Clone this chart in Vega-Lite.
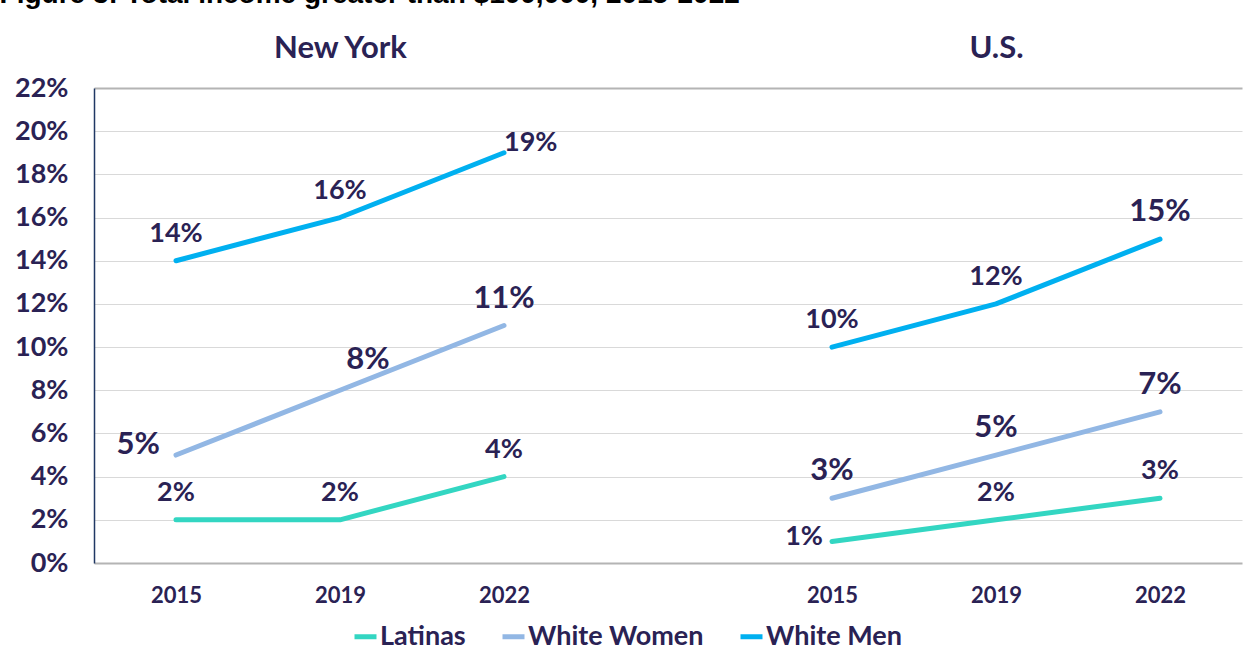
{
  "$schema": "https://vega.github.io/schema/vega-lite/v6.json",
  "width": 1148,
  "height": 475,
  "autosize": {"type": "none"},
  "padding": {"left": 94, "top": 88, "right": 1, "bottom": 101},
  "background": "white",
  "title": {
    "text": "Figure 3: Total income greater than $100,000, 2015-2022",
    "anchor": "start",
    "frame": "bounds",
    "font": "Liberation Sans",
    "fontWeight": "bold",
    "fontSize": 28,
    "color": "#000000",
    "baseline": "alphabetic",
    "offset": 20,
    "dy": 19,
    "dx": -15
  },
  "data": {
    "values": [
      {"region": "New York", "slot": "NY-2015", "series": "White Men", "value": 0.14},
      {"region": "New York", "slot": "NY-2019", "series": "White Men", "value": 0.16},
      {"region": "New York", "slot": "NY-2022", "series": "White Men", "value": 0.19},
      {"region": "New York", "slot": "NY-2015", "series": "White Women", "value": 0.05},
      {"region": "New York", "slot": "NY-2019", "series": "White Women", "value": 0.08},
      {"region": "New York", "slot": "NY-2022", "series": "White Women", "value": 0.11},
      {"region": "New York", "slot": "NY-2015", "series": "Latinas", "value": 0.02},
      {"region": "New York", "slot": "NY-2019", "series": "Latinas", "value": 0.02},
      {"region": "New York", "slot": "NY-2022", "series": "Latinas", "value": 0.04},
      {"region": "U.S.", "slot": "US-2015", "series": "White Men", "value": 0.10},
      {"region": "U.S.", "slot": "US-2019", "series": "White Men", "value": 0.12},
      {"region": "U.S.", "slot": "US-2022", "series": "White Men", "value": 0.15},
      {"region": "U.S.", "slot": "US-2015", "series": "White Women", "value": 0.03},
      {"region": "U.S.", "slot": "US-2019", "series": "White Women", "value": 0.05},
      {"region": "U.S.", "slot": "US-2022", "series": "White Women", "value": 0.07},
      {"region": "U.S.", "slot": "US-2015", "series": "Latinas", "value": 0.01},
      {"region": "U.S.", "slot": "US-2019", "series": "Latinas", "value": 0.02},
      {"region": "U.S.", "slot": "US-2022", "series": "Latinas", "value": 0.03}
    ]
  },
  "config": {
    "view": {"stroke": null},
    "font": "Lato",
    "axisY": {
      "ticks": false,
      "domainColor": "#203864",
      "domainWidth": 1.5,
      "gridColor": {"condition": {"test": "datum.value === 0 || datum.value >= 0.219", "value": "#b4b4b4"}, "value": "#d9d9d9"},
      "gridWidth": {"condition": {"test": "datum.value === 0 || datum.value >= 0.219", "value": 2}, "value": 1.2},
      "labelFont": "Lato",
      "labelFontWeight": "bold",
      "labelFontSize": 27,
      "labelColor": "#2a2254",
      "labelPadding": 26,
      "title": null
    }
  },
  "resolve": {"axis": {"x": "independent"}},
  "layer": [
    {
      "mark": {"type": "line", "strokeWidth": 5, "strokeCap": "round", "strokeJoin": "round"},
      "encoding": {
        "x": {
          "field": "slot",
          "type": "ordinal",
          "scale": {"type": "point", "padding": 0.5, "domain": ["NY-2015", "NY-2019", "NY-2022", "gap", "US-2015", "US-2019", "US-2022"]},
          "axis": {
            "orient": "bottom",
            "title": null,
            "domain": false,
            "ticks": false,
            "labelAngle": 0,
            "labelExpr": "datum.value === 'gap' ? '' : slice(datum.value, 3)",
            "labelFont": "Lato",
            "labelFontWeight": "bold",
            "labelFontSize": 22,
            "labelColor": "#2a2254",
            "labelPadding": 22
          }
        },
        "y": {
          "field": "value",
          "type": "quantitative",
          "scale": {"domain": [0, 0.22], "nice": false},
          "axis": {"values": [0, 0.02, 0.04, 0.06, 0.08, 0.1, 0.12, 0.14, 0.16, 0.18, 0.2, 0.22], "format": ".0%"}
        },
        "color": {
          "field": "series",
          "type": "nominal",
          "scale": {"domain": ["Latinas", "White Women", "White Men"], "range": ["#33d6c2", "#92b7e4", "#00b0f0"]},
          "legend": {
            "title": null,
            "orient": "none",
            "direction": "horizontal",
            "legendX": 258,
            "legendY": 535,
            "symbolType": "stroke",
            "symbolStrokeWidth": 5,
            "symbolSize": 484,
            "labelFont": "Lato",
            "labelFontWeight": "bold",
            "labelFontSize": 27,
            "labelLimit": 400,
            "labelColor": "#2a2254",
            "labelOffset": 1,
            "columnPadding": 26
          }
        },
        "detail": {"field": "region"}
      }
    },
    {
      "transform": [{"filter": "!((datum.slot === 'NY-2022' && datum.series === 'White Men') || (datum.slot === 'NY-2015' && datum.series === 'White Women') || (datum.slot === 'NY-2019' && datum.series === 'White Women') || (datum.slot === 'US-2015' && datum.series === 'Latinas'))"}],
      "mark": {"type": "text", "dy": -27, "fontWeight": "bold", "font": "Lato", "color": "#2a2254", "baseline": "middle", "align": "center"},
      "encoding": {
        "x": {
          "field": "slot",
          "type": "ordinal",
          "axis": {
            "orient": "top",
            "title": null,
            "domain": false,
            "ticks": false,
            "labelAngle": 0,
            "labelExpr": "datum.value === 'NY-2019' ? 'New York' : datum.value === 'US-2019' ? 'U.S.' : ''",
            "labelFont": "Lato",
            "labelFontWeight": "bold",
            "labelFontSize": 31,
            "labelColor": "#2a2254",
            "labelPadding": 24
          }
        },
        "y": {"field": "value", "type": "quantitative"},
        "text": {"field": "value", "type": "quantitative", "format": ".0%"},
        "size": {"condition": {"test": "datum.series === 'White Women' || (datum.slot === 'US-2022' && datum.series === 'White Men')", "value": 31}, "value": 27}
      }
    },
    {
      "transform": [{"filter": "datum.slot === 'NY-2022' && datum.series === 'White Men'"}],
      "mark": {"type": "text", "dx": 0, "dy": -10, "fontSize": 27, "fontWeight": "bold", "font": "Lato", "color": "#2a2254", "baseline": "middle", "align": "left"},
      "encoding": {
        "x": {"field": "slot", "type": "ordinal", "axis": null},
        "y": {"field": "value", "type": "quantitative"},
        "text": {"field": "value", "type": "quantitative", "format": ".0%"}
      }
    },
    {
      "transform": [{"filter": "datum.slot === 'NY-2015' && datum.series === 'White Women'"}],
      "mark": {"type": "text", "dx": -16, "dy": -10, "fontSize": 31, "fontWeight": "bold", "font": "Lato", "color": "#2a2254", "baseline": "middle", "align": "right"},
      "encoding": {
        "x": {"field": "slot", "type": "ordinal", "axis": null},
        "y": {"field": "value", "type": "quantitative"},
        "text": {"field": "value", "type": "quantitative", "format": ".0%"}
      }
    },
    {
      "transform": [{"filter": "datum.slot === 'NY-2019' && datum.series === 'White Women'"}],
      "mark": {"type": "text", "dx": 28, "dy": -30, "fontSize": 31, "fontWeight": "bold", "font": "Lato", "color": "#2a2254", "baseline": "middle", "align": "center"},
      "encoding": {
        "x": {"field": "slot", "type": "ordinal", "axis": null},
        "y": {"field": "value", "type": "quantitative"},
        "text": {"field": "value", "type": "quantitative", "format": ".0%"}
      }
    },
    {
      "transform": [{"filter": "datum.slot === 'US-2015' && datum.series === 'Latinas'"}],
      "mark": {"type": "text", "dx": -9, "dy": -4, "fontSize": 27, "fontWeight": "bold", "font": "Lato", "color": "#2a2254", "baseline": "middle", "align": "right"},
      "encoding": {
        "x": {"field": "slot", "type": "ordinal", "axis": null},
        "y": {"field": "value", "type": "quantitative"},
        "text": {"field": "value", "type": "quantitative", "format": ".0%"}
      }
    }
  ]
}
